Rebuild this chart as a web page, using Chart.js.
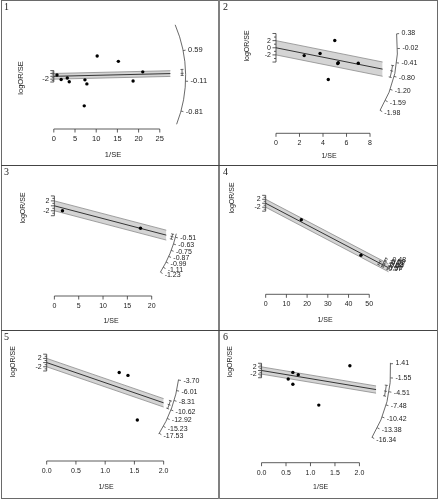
<!DOCTYPE html>
<html><head><meta charset="utf-8">
<script src="https://cdn.jsdelivr.net/npm/chart.js@4.4.1/dist/chart.umd.min.js"></script>
<style>
html,body{margin:0;padding:0;background:#fff;}
#wrap{position:relative;width:438px;height:500px;overflow:hidden;background:#fff;}
#wrap canvas{position:absolute;}
.ln{position:absolute;z-index:5;}
</style></head><body>
<div id="wrap">
<canvas id="c0"></canvas><canvas id="c1"></canvas><canvas id="c2"></canvas>
<canvas id="c3"></canvas><canvas id="c4"></canvas><canvas id="c5"></canvas>
<div class="ln" style="left:1px;top:0;width:437px;height:499px;border:1px solid #6a6a6a;box-sizing:border-box;"></div>
<div class="ln" style="left:218px;top:0;width:2px;height:499px;background:#808080;"></div>
<div class="ln" style="left:1px;top:165px;width:436px;height:1px;background:#444;"></div>
<div class="ln" style="left:1px;top:330px;width:436px;height:1px;background:#444;"></div>
</div>
<script>
// ---------------- DATA ----------------
const panelNames = ['1', '2', '3', '4', '5', '6'];

// points: x = 1/SE, z = logOR/SE
const p1X = [0.75, 1.73, 3.18, 3.64, 7.34, 7.8, 7.18, 10.23, 15.23, 18.7, 20.98];
const p1Z = [0.87, -2.2, -1.13, -3.8, -2.47, -5.33, -20.7, 14.2, 10.47, -3.33, 3.13];
const p2X = [2.4, 3.75, 5.0, 5.25, 5.3, 4.45, 7.0];
const p2Z = [-2.2, -1.6, 2.05, -4.4, -4.2, -8.9, -4.35];
const p3X = [1.66, 17.7];
const p3Z = [-2.0, -9.05];
const p4X = [17.2, 46.0];
const p4Z = [-8.3, -26.3];
const p5X = [1.24, 1.39, 1.55];
const p5Z = [-4.7, -6.1, -27.4];
const p6X = [1.805, 0.64, 0.75, 0.545, 0.64, 1.17];
const p6Z = [2.6, -1.05, -2.3, -4.7, -7.6, -19.1];

// pooled estimates (slope of fitted line), its CI, and extent of the band in 1/SE
const estimates = [0.07, -0.66, -0.515, -0.55, -9.6, -4.5];
const ciBounds = [[0.02, 0.16], [-0.85, -0.5], [-0.56, -0.47], [-0.57, -0.53], [-10.6, -8.6], [-5.6, -3.2]];
const bandEnds = [27.5, 9.07, 23, 59.3, 2.0, 2.34];

// arc (logOR) tick labels
const arc1 = [0.59, -0.11, -0.81];
const arc2 = [0.38, -0.02, -0.41, -0.80, -1.20, -1.59, -1.98];
const arc3 = [-0.51, -0.63, -0.75, -0.87, -0.99, -1.11, -1.23];
const arc4 = [-0.48, -0.50, -0.51, -0.53, -0.54, -0.56, -0.57];
const arc5 = [-3.70, -6.01, -8.31, -10.62, -12.92, -15.23, -17.53];
const arc6 = [1.41, -1.55, -4.51, -7.48, -10.42, -13.38, -16.34];

// x axis ticks
const xTicks1 = [0, 5, 10, 15, 20, 25];
const xTicks2 = [0, 2, 4, 6, 8];
const xTicks3 = [0, 5, 10, 15, 20];
const xTicks4 = [0, 10, 20, 30, 40, 50];
const xTicks5 = [0, 0.5, 1, 1.5, 2];
const xTicks6 = [0, 0.5, 1, 1.5, 2];
const xTickLabels1 = ['0', '5', '10', '15', '20', '25'];
const xTickLabels2 = ['0', '2', '4', '6', '8'];
const xTickLabels3 = ['0', '5', '10', '15', '20'];
const xTickLabels4 = ['0', '10', '20', '30', '40', '50'];
const xTickLabels5 = ['0.0', '0.5', '1.0', '1.5', '2.0'];
const xTickLabels6 = ['0.0', '0.5', '1.0', '1.5', '2.0'];

// z axis ticks / shown labels
const zTicks = [-4, -3, -2, -1, 0, 1, 2, 3, 4];
const zLabels = [[-2], [2, 0, -2], [2, -2], [2, -2], [2, -2], [2, -2]];

const xLabel = '1/SE';
const yLabel = 'logOR/SE';

// ---------------- LAYOUT ----------------
const PX = [p1X, p2X, p3X, p4X, p5X, p6X];
const PZ = [p1Z, p2Z, p3Z, p4Z, p5Z, p6Z];
const ARCS = [arc1, arc2, arc3, arc4, arc5, arc6];
const XT = [xTicks1, xTicks2, xTicks3, xTicks4, xTicks5, xTicks6];
const XTL = [xTickLabels1, xTickLabels2, xTickLabels3, xTickLabels4, xTickLabels5, xTickLabels6];

const LAYOUT = [
  {left:0,   top:0,   w:219, h:165, x0:51.7, sx:4.4,  y0:76,   sy:1.5,  axisY:129,   xlab:[113,155],   ylab:[21,78],   arcLen:31.1,  arcRange:[1.26,-1.16], fs:7.5},
  {left:219, top:0,   w:219, h:165, x0:55,   sx:12.2, y0:46,   sy:3.75, axisY:133.3, xlab:[110,156],   ylab:[28,46],   arcLen:10.33, arcRange:[0.38,-1.98], fs:7},
  {left:0,   top:165, w:219, h:165, x0:52.3, sx:5.05, y0:38.7, sy:2.6,  axisY:131,   xlab:[111,155.7], ylab:[23,43],   arcLen:25.7,  arcRange:[-0.45,-1.23], fs:7},
  {left:219, top:165, w:219, h:165, x0:44.3, sx:2.15, y0:36,   sy:2.08, axisY:129.3, xlab:[106,155],   ylab:[13,33],   arcLen:63.7,  arcRange:[-0.47,-0.58], fs:7},
  {left:0,   top:330, w:219, h:170, x0:44.3, sx:60.7, y0:30,   sy:2.2,  axisY:131,   xlab:[106,156.7], ylab:[13,31.7], arcLen:2.273, arcRange:[-3.6,-17.8], fs:7},
  {left:219, top:330, w:219, h:170, x0:40,   sx:50.8, y0:38.3, sy:1.9,  axisY:132.7, xlab:[101.7,156.7], ylab:[11,31.7], arcLen:2.638, arcRange:[1.6,-16.4], fs:7}
];

const INK = '#222';
const SANS = '"Liberation Sans", Arial, Helvetica, sans-serif';
const SERIF = '"Liberation Serif", "Times New Roman", serif';

function makeDecor(i) {
  return {
    id: 'decor' + i,
    afterDraw(chart) {
      const L = LAYOUT[i], ctx = chart.ctx, xs = chart.scales.x, ys = chart.scales.y;
      ctx.save();
      ctx.strokeStyle = '#333'; ctx.fillStyle = INK; ctx.lineWidth = 0.8;
      // x axis
      const tv = XT[i], tl = XTL[i], ay = L.axisY;
      ctx.beginPath();
      ctx.moveTo(xs.getPixelForValue(tv[0]), ay);
      ctx.lineTo(xs.getPixelForValue(tv[tv.length - 1]), ay);
      tv.forEach(v => { const px = xs.getPixelForValue(v); ctx.moveTo(px, ay); ctx.lineTo(px, ay + 3.5); });
      ctx.stroke();
      ctx.font = L.fs + 'px ' + SANS;
      ctx.textAlign = 'center'; ctx.textBaseline = 'middle';
      tv.forEach((v, k) => ctx.fillText(tl[k], xs.getPixelForValue(v), ay + 10));
      ctx.fillText(xLabel, L.xlab[0], L.xlab[1]);
      // z axis
      const ax = xs.getPixelForValue(0);
      ctx.beginPath();
      ctx.moveTo(ax, ys.getPixelForValue(-4)); ctx.lineTo(ax, ys.getPixelForValue(4));
      zTicks.forEach(z => {
        const py = ys.getPixelForValue(z); const len = (z % 2 === 0) ? 3.5 : 2;
        ctx.moveTo(ax, py); ctx.lineTo(ax - len, py);
      });
      ctx.stroke();
      ctx.textAlign = 'right';
      zLabels[i].forEach(z => ctx.fillText(String(z), ax - 5, ys.getPixelForValue(z)));
      ctx.save();
      ctx.translate(L.ylab[0], L.ylab[1]); ctx.rotate(-Math.PI / 2);
      ctx.textAlign = 'center'; ctx.fillText(yLabel, 0, 0);
      ctx.restore();
      // panel number
      ctx.font = '10px ' + SERIF; ctx.textAlign = 'left';
      ctx.fillText(panelNames[i], 4, 7);
      // arc
      const ox = ax, oy = ys.getPixelForValue(0);
      const R = xs.getPixelForValue(L.arcLen) - ox;
      const ang = v => Math.atan2(ys.getPixelForValue(v) - oy, xs.getPixelForValue(1) - ox);
      ctx.strokeStyle = '#444';
      ctx.beginPath();
      ctx.arc(ox, oy, R, ang(L.arcRange[0]), ang(L.arcRange[1]));
      ctx.stroke();
      ctx.font = L.fs + 'px ' + SANS; ctx.textAlign = 'left';
      ctx.beginPath();
      ARCS[i].forEach(v => {
        const a = ang(v), c = Math.cos(a), s = Math.sin(a);
        ctx.moveTo(ox + R * c, oy + R * s); ctx.lineTo(ox + (R + 2.5) * c, oy + (R + 2.5) * s);
      });
      ctx.stroke();
      ARCS[i].forEach(v => {
        const a = ang(v), c = Math.cos(a), s = Math.sin(a);
        ctx.fillText(v.toFixed(2), ox + (R + 5) * c, oy + (R + 5) * s);
      });
      // CI marks
      const ci = ciBounds[i], rc = R - 3.5;
      ctx.beginPath();
      ctx.arc(ox, oy, rc, ang(ci[1]), ang(ci[0]));
      [ci[0], estimates[i], ci[1]].forEach(v => {
        const a = ang(v), c = Math.cos(a), s = Math.sin(a);
        ctx.moveTo(ox + (rc - 1.5) * c, oy + (rc - 1.5) * s); ctx.lineTo(ox + (rc + 1.5) * c, oy + (rc + 1.5) * s);
      });
      ctx.stroke();
      ctx.restore();
    }
  };
}

for (let i = 0; i < 6; i++) {
  const L = LAYOUT[i];
  const cv = document.getElementById('c' + i);
  cv.width = L.w; cv.height = L.h;
  cv.style.left = L.left + 'px'; cv.style.top = L.top + 'px';
  const est = estimates[i], xe = bandEnds[i];
  const pts = PX[i].map((x, k) => ({x: x, y: PZ[i][k]}));
  new Chart(cv, {
    type: 'scatter',
    data: {
      datasets: [
        {type: 'line', data: [{x: 0, y: 2}, {x: xe, y: est * xe + 2}], borderColor: '#8c8c8c', borderWidth: 0.8, pointRadius: 0, fill: false, order: 2},
        {type: 'line', data: [{x: 0, y: -2}, {x: xe, y: est * xe - 2}], borderColor: '#8c8c8c', borderWidth: 0.8, pointRadius: 0, fill: '-1', backgroundColor: '#d4d4d4', order: 3},
        {type: 'line', data: [{x: 0, y: 0}, {x: xe, y: est * xe}], borderColor: '#222', borderWidth: 0.9, pointRadius: 0, fill: false, order: 1},
        {type: 'scatter', data: pts, pointRadius: 1.7, backgroundColor: '#000', borderWidth: 0, order: 0}
      ]
    },
    options: {
      responsive: false, animation: false, devicePixelRatio: 1, events: [],
      layout: {padding: 0},
      plugins: {legend: {display: false}, tooltip: {enabled: false}},
      scales: {
        x: {type: 'linear', display: false, min: -L.x0 / L.sx, max: (L.w - L.x0) / L.sx},
        y: {type: 'linear', display: false, min: -(L.h - L.y0) / L.sy, max: L.y0 / L.sy}
      }
    },
    plugins: [makeDecor(i)]
  });
}
</script>
</body></html>
